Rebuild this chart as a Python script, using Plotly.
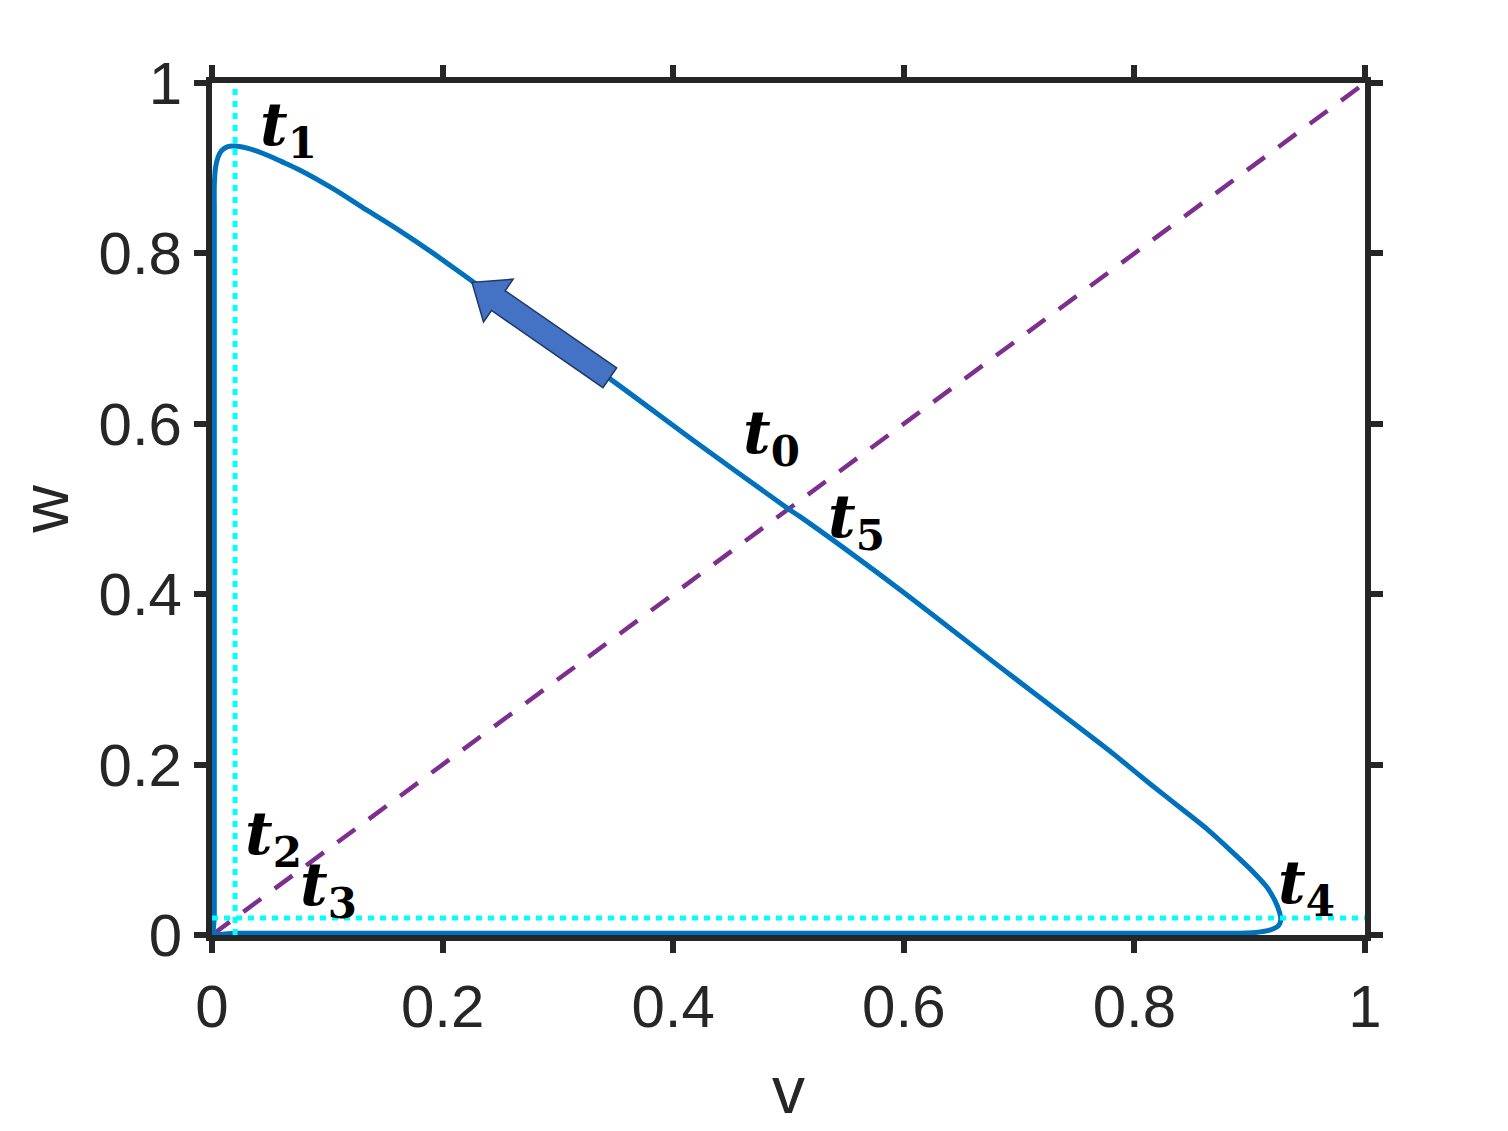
import numpy as np
import plotly.graph_objects as go

# ---- data ----
v_traj = [0.500, 0.420, 0.347, 0.280, 0.226, 0.192, 0.160, 0.134, 0.105, 0.076, 0.060, 0.045, 0.032,
          0.020, 0.013, 0.008, 0.005, 0.003, 0.002, 0.002, 0.002, 0.002, 0.002, 0.002, 0.002, 0.002,
          0.002, 0.002,
          0.020, 0.060, 0.150, 0.300, 0.450, 0.600, 0.750, 0.850, 0.880, 0.905, 0.918, 0.925, 0.927,
          0.926, 0.922, 0.915, 0.903, 0.886, 0.865, 0.842, 0.814, 0.785, 0.770, 0.683, 0.597, 0.510, 0.500]
w_traj = [0.500, 0.578, 0.651, 0.715, 0.767, 0.800, 0.829, 0.851, 0.876, 0.898, 0.908, 0.917, 0.923,
          0.926, 0.925, 0.920, 0.912, 0.900, 0.880, 0.850, 0.750, 0.600, 0.450, 0.300, 0.150, 0.060,
          0.020, 0.002,
          0.002, 0.002, 0.002, 0.002, 0.002, 0.002, 0.002, 0.002, 0.002, 0.003, 0.006, 0.011, 0.018,
          0.026, 0.040, 0.056, 0.074, 0.096, 0.122, 0.147, 0.177, 0.209, 0.225, 0.315, 0.405, 0.491, 0.500]

diag_v = [0, 1]
diag_w = [0, 1]

thr = 0.02  # threshold lines
thr_line_v = [thr, thr]
thr_line_w = [0, 1]

label_text = ["0", "1", "2", "3", "4", "5"]
label_v = [0.485, 0.066, 0.053, 0.101, 0.949, 0.559]
label_w = [0.585, 0.947, 0.115, 0.054, 0.0575, 0.486]

arrow_from = (0.345, 0.654)
arrow_to = (0.2255, 0.766)

tick_vals = [0, 0.2, 0.4, 0.6, 0.8, 1]
tick_text = ["0", "0.2", "0.4", "0.6", "0.8", "1"]

# ---- layout geometry (page body has an 8px margin) ----
W, H = 1508, 1131
ml, mr, mt, mb = 204, 151, 75, 204
sx = W - ml - mr  # px per unit v
sy = H - mt - mb  # px per unit w

fig = go.Figure()

fig.add_trace(go.Scatter(x=diag_v, y=diag_w, mode="lines",
                         line=dict(color="#7E2F8E", width=4.5, dash="22px,17px"),
                         hoverinfo="skip", showlegend=False))
fig.add_trace(go.Scatter(x=v_traj, y=w_traj, mode="lines",
                         line=dict(color="#0072BD", width=5, shape="spline", smoothing=0.8),
                         hoverinfo="skip", showlegend=False))
fig.add_trace(go.Scatter(x=thr_line_v, y=thr_line_w, mode="lines",
                         line=dict(color="#00FFFF", width=5, dash="6px,6px"),
                         hoverinfo="skip", showlegend=False))
fig.add_trace(go.Scatter(x=thr_line_w, y=thr_line_v, mode="lines",
                         line=dict(color="#00FFFF", width=5, dash="6px,6px"),
                         hoverinfo="skip", showlegend=False))

# ---- block arrow (computed in pixel space, converted to data units) ----
p0 = np.array([arrow_from[0] * sx, -arrow_from[1] * sy])
p1 = np.array([arrow_to[0] * sx, -arrow_to[1] * sy])
d = p1 - p0
L = np.linalg.norm(d)
u = d / L
n = np.array([-u[1], u[0]])
shaft_w, head_w, head_l = 24.0, 52.0, 32.0
base = p1 - u * head_l
pts = [p0 + n * shaft_w / 2, base + n * shaft_w / 2, base + n * head_w / 2, p1,
       base - n * head_w / 2, base - n * shaft_w / 2, p0 - n * shaft_w / 2]
path = "M " + " L ".join(f"{p[0] / sx:.5f},{-p[1] / sy:.5f}" for p in pts) + " Z"
fig.add_shape(type="path", path=path, xref="x", yref="y",
              fillcolor="#4472C4", line=dict(color="#1F3864", width=1.5), layer="above")

for t, lv, lw in zip(label_text, label_v, label_w):
    fig.add_annotation(x=lv, y=lw, xref="x", yref="y",
                       text=f"<b><i>t</i></b><b><sub>{t}</sub></b>",
                       showarrow=False, xanchor="center", yanchor="middle",
                       font=dict(family="DejaVu Serif, Liberation Serif, serif", size=60, color="black"))

axis_font = dict(family="Liberation Sans, Arial, sans-serif", size=60, color="#262626")
common = dict(range=[0, 1], tickvals=tick_vals, ticktext=tick_text, showgrid=False, zeroline=False,
              showline=True, linecolor="#262626", linewidth=6, mirror="ticks",
              ticks="outside", ticklen=12, tickwidth=6, tickcolor="#262626",
              tickfont=axis_font, layer="below traces", fixedrange=True)

fig.update_xaxes(**common, title=dict(text="v", font=dict(family=axis_font["family"], size=66, color="#262626"), standoff=30),
                 ticklabelstandoff=2)
fig.update_yaxes(**common, title=dict(text="w", font=dict(family=axis_font["family"], size=66, color="#262626"), standoff=24),
                 ticklabelstandoff=0)

fig.update_layout(width=W, height=H, autosize=False,
                  margin=dict(l=ml, r=mr, t=mt, b=mb, pad=0),
                  plot_bgcolor="white", paper_bgcolor="white", showlegend=False)

fig.write_html("out.html")
